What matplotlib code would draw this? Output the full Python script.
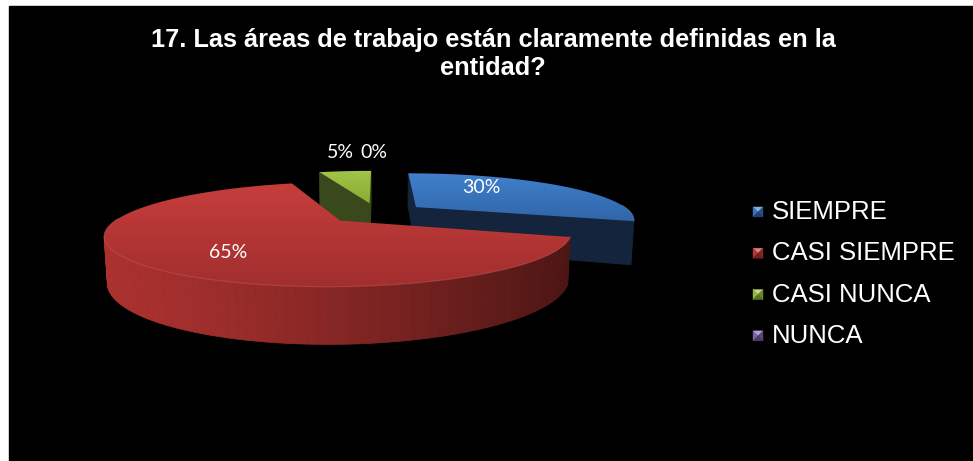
import numpy as np
import matplotlib
matplotlib.use('Agg')
import matplotlib.pyplot as plt
from matplotlib.patches import Polygon, Rectangle

title = '17. Las áreas de trabajo están claramente definidas en la\nentidad?'
categories = ['SIEMPRE', 'CASI SIEMPRE', 'CASI NUNCA', 'NUNCA']
percent = [30, 65, 5, 0]

# office palette, shaded for the 3d look: (top back, top front, side left, side right)
base_colors = ['#4f81bd', '#c0504d', '#9bbb59', '#8064a2']
shades = [
    [(64, 128, 204), (48, 102, 168), (26, 44, 74), (18, 30, 52)],
    [(198, 62, 60), (162, 46, 46), (172, 50, 48), (62, 18, 16)],
    [(162, 196, 72), (138, 172, 54), (78, 98, 36), (44, 56, 22)],
    [(140, 110, 180), (110, 85, 150), (70, 55, 95), (45, 35, 60)],
]
label_xy = [(481, 187), (228, 252), (340, 152), (374, 152)]

W, H = 973, 461
fig = plt.figure(figsize=(W / 100, H / 100), dpi=100, facecolor='white')
ax = fig.add_axes([0, 0, 1, 1])
ax.set_xlim(0, W)
ax.set_ylim(H, 0)
ax.axis('off')
ax.add_patch(Rectangle((9, 6), W, H, color='black', zorder=0))

# pie projection settings
cx, cy = 377, 213
R = 216
elev = np.radians(12)
D = 3.9
h = 0.2
explode = 0.23
cam = np.array([0.0, -D * np.cos(elev), D * np.sin(elev)])


def proj(p):
    X, Y, Z = p
    dist = D + Y * np.cos(elev) - Z * np.sin(elev)
    k = D / dist
    return cx + R * X * k, cy - R * (Y * np.sin(elev) + Z * np.cos(elev)) * k


def pt(ang, r, off, z):
    a = np.radians(ang)
    return np.array([off[0] + r * np.sin(a), off[1] + r * np.cos(a), z])


def mix(c0, c1, t):
    t = min(max(t, 0), 1)
    return tuple((np.array(c0) * (1 - t) + np.array(c1) * t) / 255)


xmin, xmax = cx - R * 1.3, cx + R * 1.15

slices = []
start = 0.0
for i, v in enumerate(percent):
    sweep = 360 * v / 100
    if v > 0:
        mid = start + sweep / 2
        off = explode * np.array([np.sin(np.radians(mid)), np.cos(np.radians(mid))])
        slices.append((i, start, start + sweep, off))
    start += sweep

# back slices first
slices.sort(key=lambda s: -s[3][1])

for i, t0, t1, off in slices:
    tb, tf, sl, sr = shades[i]
    faces = []
    angs = np.linspace(t0, t1, max(int((t1 - t0) / 2), 2) + 1)
    # outer rim
    for a0, a1 in zip(angs[:-1], angs[1:]):
        am = (a0 + a1) / 2
        n = np.array([np.sin(np.radians(am)), np.cos(np.radians(am)), 0])
        c = pt(am, 1, off, -h / 2)
        if np.dot(n, cam - c) > 0:
            quad = [pt(a0, 1, off, 0), pt(a1, 1, off, 0), pt(a1, 1, off, -h), pt(a0, 1, off, -h)]
            faces.append((c[1], quad, 'rim'))
    # cut faces
    for a, na in ((t0, t0 - 90), (t1, t1 + 90)):
        n = np.array([np.sin(np.radians(na)), np.cos(np.radians(na)), 0])
        c = pt(a, 0.5, off, -h / 2)
        if np.dot(n, cam - c) > 0:
            quad = [pt(a, 0, off, 0), pt(a, 1, off, 0), pt(a, 1, off, -h), pt(a, 0, off, -h)]
            faces.append((c[1], quad, 'cut'))
    faces.sort(key=lambda f: -f[0])
    for _, quad, kind in faces:
        xy = [proj(p) for p in quad]
        xs = np.mean([q[0] for q in xy])
        t = float(np.clip((xs - xmin) / (xmax - xmin), 0, 1))
        col = mix(sl, sr, t ** 1.3 if kind == 'rim' else 0.6)
        ax.add_patch(Polygon(xy, closed=True, facecolor=col, edgecolor=col, lw=0.6, zorder=2))

    # top surface with vertical gradient
    top = [proj(pt(t0, 0, off, 0))] + [proj(pt(a, 1, off, 0)) for a in angs]
    poly = Polygon(top, closed=True, facecolor='none', edgecolor='none', zorder=3)
    ax.add_patch(poly)
    ys = [p[1] for p in top]
    xs = [p[0] for p in top]
    y0, y1 = min(ys), max(ys)
    grad = np.linspace(0, 1, 64)
    img = np.array([mix(tb, tf, g) for g in grad])[:, None, :].repeat(2, axis=1)
    im = ax.imshow(img, extent=(min(xs), max(xs), y1, y0), origin='upper',
                   aspect='auto', interpolation='bilinear', zorder=3)
    im.set_clip_path(poly)

    # light edge along the visible front rim
    rim = [proj(pt(a, 1, off, 0)) for a in angs if np.cos(np.radians(a)) < 0.05]
    if len(rim) > 1:
        hl = mix(tb, (255, 255, 255), 0.15)
        ax.plot([p[0] for p in rim], [p[1] for p in rim], color=hl, lw=0.9, alpha=0.45, zorder=4)

# value labels
for (lx, ly), v in zip(label_xy, percent):
    ax.text(lx, ly, f'{v}%', color='white', fontsize=14, family='Lato',
            ha='center', va='center', zorder=5)

ax.text(493, 54, title, color='white', fontsize=18.3, fontweight='bold',
        family='Liberation Sans', ha='center', va='center', linespacing=1.22, zorder=5)

# legend with bevelled swatches
ly0, dy = 212, 41.3
for k, (name, c) in enumerate(zip(categories, shades)):
    yc = ly0 + k * dy
    x0, s = 753, 10
    x1, y0, y1 = x0 + s, yc - s / 2, yc + s / 2
    xm, ym = (x0 + x1) / 2, yc
    tri = [([(x0, y0), (x1, y0), (xm, ym)], mix(c[0], (255, 255, 255), 0.35)),
           ([(x0, y0), (x0, y1), (xm, ym)], mix(c[0], c[1], 0.5)),
           ([(x1, y0), (x1, y1), (xm, ym)], mix(c[1], c[3], 0.3)),
           ([(x0, y1), (x1, y1), (xm, ym)], mix(c[1], c[3], 0.5))]
    for pts, col in tri:
        ax.add_patch(Polygon(pts, closed=True, facecolor=col, edgecolor=col, lw=0.3, zorder=5))
    ax.text(772, yc, name, color='white', fontsize=18.5, family='Liberation Sans',
            ha='left', va='center', zorder=5)

fig.savefig('out.png', dpi=100, facecolor='white')
